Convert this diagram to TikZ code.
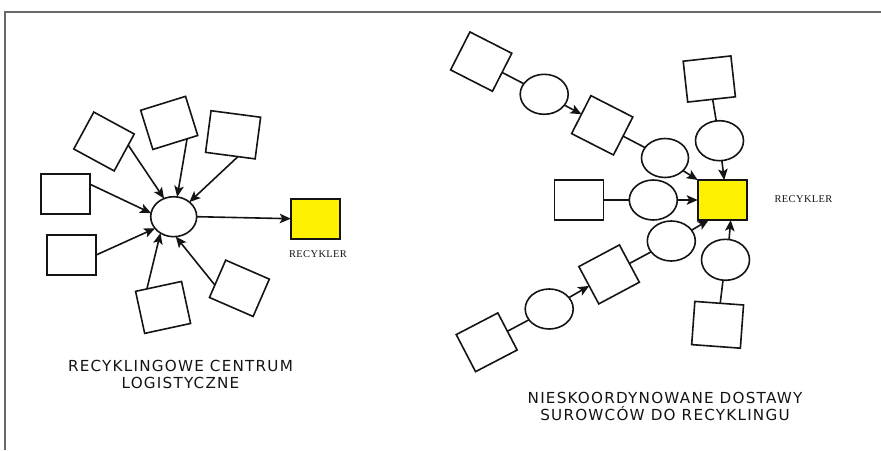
\documentclass[tikz,border=0pt]{standalone}
\usepackage{fontspec}
\newfontfamily\titlefont[LetterSpace=8]{DejaVu Sans}
\newfontfamily\labfont[LetterSpace=4]{Liberation Serif}
\usetikzlibrary{arrows.meta,shapes.geometric}
\definecolor{recy}{RGB}{255,242,0}
\definecolor{ink}{RGB}{20,20,20}
\definecolor{framec}{RGB}{105,105,105}
\begin{document}
\begin{tikzpicture}[x=1pt,y=-1pt,
  box/.style={draw=ink, line width=1.6pt, minimum width=49pt, minimum height=40pt, inner sep=0pt, outer sep=0pt},
  ell/.style={draw=ink, ellipse, line width=1.6pt, minimum width=48pt, minimum height=40pt, inner sep=0pt, outer sep=0pt},
  ln/.style={draw=ink, line width=1.6pt},
  arr/.style={draw=ink, line width=1.6pt, -{Stealth[length=11pt,width=9.5pt,inset=2.5pt]}},
  lab/.style={text=ink, font=\labfont\fontsize{10.4}{12}\selectfont, inner sep=0pt},
  ttl/.style={text=ink, align=center, font=\titlefont\fontsize{15.2}{17}\selectfont, inner sep=0pt}]
\useasboundingbox (0,0) rectangle (881,450);
\fill[white] (0,0) rectangle (881,450);
% frame
\draw[framec, line width=1.6pt] (881,12) -- (4.8,12) -- (4.8,450);

% ---------- left cluster ----------
\node[ell, minimum width=46pt] (c) at (173.7,216.7) {};
\node[box, fill=recy] (y1) at (315.3,218.7) {};
\node[lab] (t1) at (318,254) {RECYKLER};
\node[box] (l1) at (65.3,194) {};
\node[box] (l2) at (71.2,255.2) {};
\node[box, minimum width=46pt, minimum height=42pt, rotate=-28.5] (b3) at (104,141.5) {};
\node[box, minimum width=47pt, minimum height=41pt, rotate=17.3] (b4) at (169.2,122.9) {};
\node[box, minimum width=50pt, minimum height=42pt, rotate=-7.5] (b5) at (233.1,134.8) {};
\node[box, minimum width=47pt, minimum height=43pt, rotate=12.2] (b6) at (163.1,307.4) {};
\node[box, minimum width=47.6pt, minimum height=40.7pt, rotate=-23.5] (b7) at (239.4,288.3) {};

\draw[arr] (l1.22) -- (c.171);
\draw[arr] (l2.east) -- (c.212);
\draw[arr] (b3.20) -- (c.118);
\draw[arr] (b4.301) -- (c.80);
\draw[arr] (b5.290) -- (c.43);
\draw[arr] (b6.119) -- (c.231);
\draw[arr] (b7.196) -- (c.276);
\draw[arr] (c.east) -- (y1.west);

\node[ttl] (t3) at (180.5,374.5) {RECYKLINGOWE CENTRUM\\LOGISTYCZNE};

% ---------- right cluster ----------
\node[box, fill=recy] (y2) at (722.2,200) {};
\node[lab] (t2) at (803.5,199) {RECYKLER};
\node[box, minimum width=47pt, minimum height=42.6pt, rotate=-27] (r1) at (481.2,61.6) {};
\node[ell] (e1) at (544.2,94.3) {};
\node[box, minimum width=47pt, minimum height=42.6pt, rotate=-27] (r2) at (602.2,125.3) {};
\node[ell, minimum width=47pt, minimum height=39pt] (e2) at (665,158) {};
\node[box] (r3) at (579,200) {};
\node[ell] (e3) at (653.3,200) {};
\node[ell] (e4) at (671.3,241) {};
\node[box, minimum width=46pt, minimum height=42.3pt, rotate=28.1] (r4) at (609.1,274.4) {};
\node[ell] (e6) at (549.2,309) {};
\node[box, minimum width=46.9pt, minimum height=41.8pt, rotate=27.5] (r6) at (486.7,342.3) {};
\node[ell, minimum height=41pt] (e5) at (725.5,259.8) {};
\node[box, minimum width=48.8pt, minimum height=43.3pt, rotate=-4.2] (r5) at (717.6,324.8) {};
\node[box, minimum width=48pt, minimum height=41.1pt, rotate=6.3] (r7) at (709.3,79) {};
\node[ell] (e7) at (719.5,140.7) {};

\draw[ln] (r1) -- (e1);
\draw[arr] (e1) -- (r2);
\draw[ln] (r2) -- (e2);
\draw[arr] (e2.-35) -- (y2.north west);
\draw[ln] (r3) -- (e3);
\draw[arr] (e3) -- (y2);
\draw[ln] (r6) -- (e6);
\draw[arr] (e6) -- (r4);
\draw[ln] (r4) -- (e4);
\draw[arr] (e4.28) -- ([xshift=11pt]y2.south west);
\draw[ln] (r5) -- (e5);
\draw[arr] (e5.80) -- ([xshift=8.5pt]y2.south);
\draw[ln] (r7) -- (e7);
\draw[arr] (e7) -- ([xshift=2pt]y2.north);

\node[ttl] (t4) at (665,406.5) {NIESKOORDYNOWANE DOSTAWY\\SUROWCÓW DO RECYKLINGU};
\end{tikzpicture}
\end{document}
